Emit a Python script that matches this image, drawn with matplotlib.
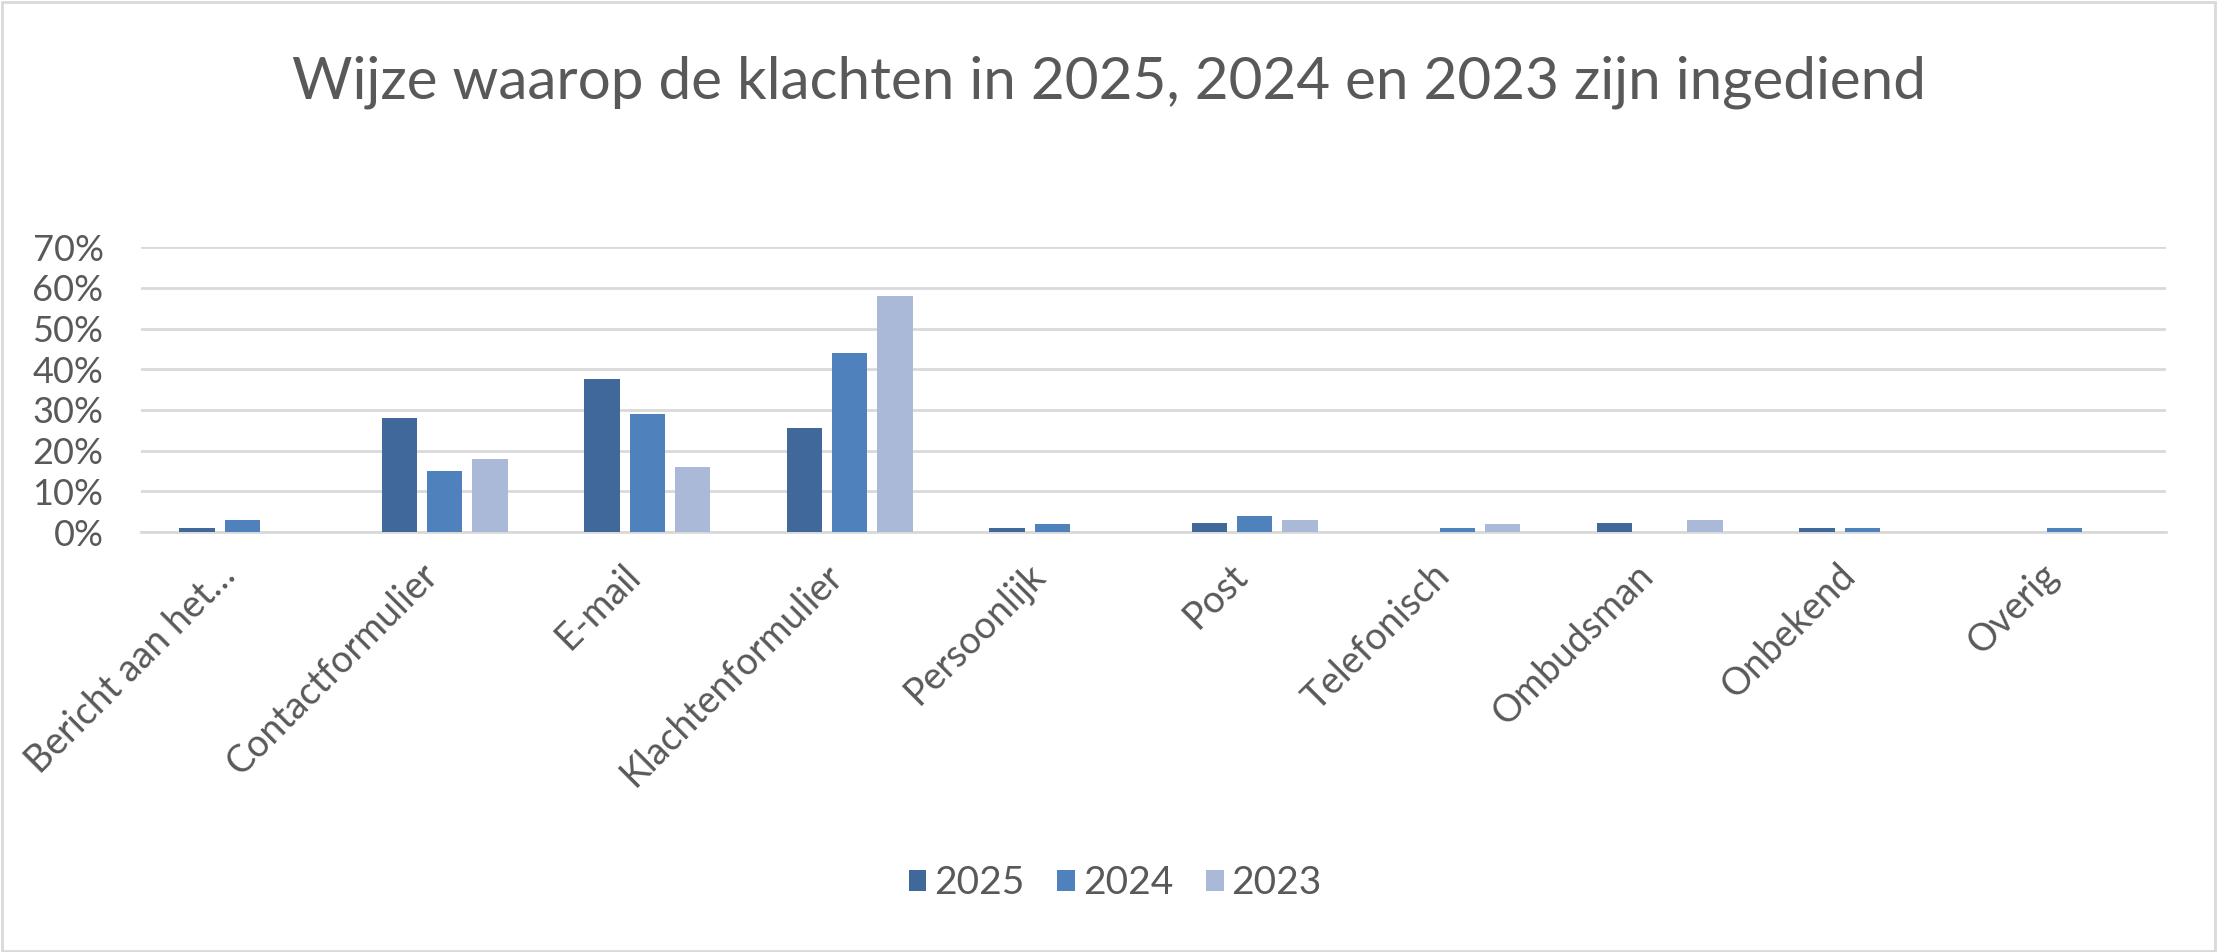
import matplotlib
matplotlib.use("Agg")
import matplotlib.pyplot as plt
import matplotlib.ticker as mtick
import numpy as np
from matplotlib.patches import Rectangle

# data (percentages)
categories = [
	"Bericht aan het…", "Contactformulier", "E-mail", "Klachtenformulier", "Persoonlijk",
	"Post", "Telefonisch", "Ombudsman", "Onbekend", "Overig",
]
years = ["2025", "2024", "2023"]
v2025 = [1, 28, 37.7, 25.5, 1, 2.2, 0, 2.2, 1, 0]
v2024 = [3, 15, 29, 44, 2, 4, 1, 0, 1, 1]
v2023 = [0, 18, 16, 58, 0, 3, 2, 3, 0, 0]
yticks = [0, 10, 20, 30, 40, 50, 60, 70]

colors = ["#40689B", "#4F81BD", "#A9B9D7"]
text_col = "#595959"
grid_col = "#D9D9D9"

plt.rcParams["font.family"] = ["Lato", "DejaVu Sans"]

fig = plt.figure(figsize=(22.17, 9.52), dpi=100)
ax = fig.add_axes([0.0636, 0.441, 0.9134, 0.2995])

x = np.arange(len(categories))
width = 0.175
step = 0.224
for i, (vals, year) in enumerate(zip([v2025, v2024, v2023], years)):
	ax.bar(x + (i - 1) * step, np.array(vals) / 100, width=width, color=colors[i], label=year, zorder=3)

ax.set_xlim(-0.5, len(categories) - 0.5)
ax.set_ylim(0, 0.7)
ax.set_yticks(np.array(yticks) / 100)
ax.yaxis.set_major_formatter(mtick.PercentFormatter(xmax=1.0, decimals=0))
ax.grid(axis="y", color=grid_col, linewidth=2, zorder=0)
ax.set_axisbelow(True)
for s in ["top", "right", "left"]:
	ax.spines[s].set_visible(False)
ax.spines["bottom"].set_color(grid_col)
ax.spines["bottom"].set_linewidth(2)

ax.set_xticks(x)
ax.set_xticklabels(categories, rotation=45, ha="right", va="top")
ax.tick_params(axis="x", length=0, pad=18, labelsize=27, labelcolor=text_col)
ax.tick_params(axis="y", length=0, pad=27, labelsize=26, labelcolor=text_col)

fig.suptitle("Wijze waarop de klachten in 2025, 2024 en 2023 zijn ingediend",
	y=0.914, va="center", fontsize=42, color=text_col)

leg = fig.legend(loc="center", bbox_to_anchor=(0.503, 0.072), ncol=3, frameon=False,
	fontsize=28, labelcolor=text_col, handlelength=0.45, handleheight=0.45,
	handletextpad=0.2, columnspacing=0.85)

fig.patches.append(Rectangle((0.001, 0.001), 0.998, 0.997, transform=fig.transFigure,
	fill=False, edgecolor=grid_col, linewidth=2))

fig.savefig("out.png", dpi=100, facecolor="white")
